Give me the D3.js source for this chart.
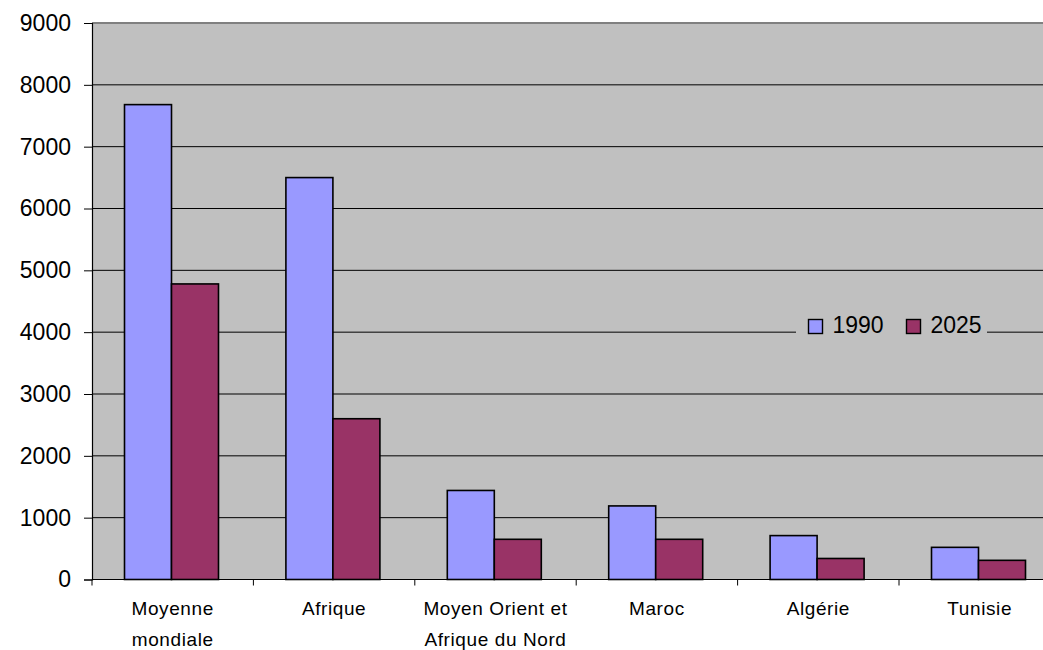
<!DOCTYPE html>
<html>
<head>
<meta charset="utf-8">
<script src="https://cdn.jsdelivr.net/npm/d3@7"></script>
<style>
  html, body { margin: 0; padding: 0; background: #ffffff; }
  svg { display: block; font-family: "Liberation Sans", Arial, sans-serif; }
</style>
</head>
<body>
<svg id="chart" width="1043" height="650"></svg>
<script>
// Categories (label lines) and the two series
const categories = ["Moyenne mondiale", "Afrique", "Moyen Orient et Afrique du Nord", "Maroc", "Algérie", "Tunisie"];
const categoryLines = [["Moyenne", "mondiale"], ["Afrique"], ["Moyen Orient et", "Afrique du Nord"], ["Maroc"], ["Algérie"], ["Tunisie"]];
const seriesNames = ["1990", "2025"];
const values1990 = [7680, 6500, 1440, 1190, 710, 520];
const values2025 = [4780, 2600, 650, 650, 340, 310];
const yTicks = [0, 1000, 2000, 3000, 4000, 5000, 6000, 7000, 8000, 9000];
const seriesColors = ["#9999FF", "#993366"];

const svg = d3.select("#chart");
const plotLeft = 92, plotTop = 23, plotBottom = 579.5, catWidth = 161.4;
const plotRight = plotLeft + catWidth * categories.length;

const x0 = d3.scaleBand().domain(categories).range([plotLeft, plotRight]).padding(0);
const x1 = d3.scaleBand().domain(seriesNames).range([32.5, 126.5]).padding(0);
const y = d3.scaleLinear().domain([0, 9000]).range([plotBottom, plotTop]);

// Plot background
svg.append("rect")
  .attr("x", plotLeft).attr("y", plotTop)
  .attr("width", plotRight - plotLeft).attr("height", plotBottom - plotTop)
  .attr("fill", "#C0C0C0");

// Top border of the plot area
svg.append("line")
  .attr("x1", plotLeft).attr("x2", plotRight)
  .attr("y1", plotTop).attr("y2", plotTop)
  .attr("stroke", "#808080").attr("stroke-width", 2);

// Horizontal gridlines
svg.append("g").selectAll("line")
  .data(yTicks.filter(t => t > 0 && t < 9000))
  .join("line")
  .attr("x1", plotLeft).attr("x2", plotRight)
  .attr("y1", d => y(d)).attr("y2", d => y(d))
  .attr("stroke", "#000").attr("stroke-width", 1);

// Bars
const rows = categories.map((c, i) => ({ cat: c, vals: [values1990[i], values2025[i]] }));
const groups = svg.append("g").selectAll("g")
  .data(rows).join("g")
  .attr("transform", d => `translate(${x0(d.cat)},0)`);
groups.selectAll("rect")
  .data(d => d.vals.map((v, j) => ({ s: seriesNames[j], v, j })))
  .join("rect")
  .attr("x", d => x1(d.s))
  .attr("width", x1.bandwidth())
  .attr("y", d => y(d.v))
  .attr("height", d => y(0) - y(d.v))
  .attr("fill", d => seriesColors[d.j])
  .attr("stroke", "#000").attr("stroke-width", 1.6);

// Y axis
const yAxis = d3.axisLeft(y).tickValues(yTicks).tickSize(8).tickPadding(13).tickFormat(d3.format("d"));
const gy = svg.append("g").attr("transform", `translate(${plotLeft},0)`).call(yAxis);
gy.select(".domain").attr("stroke", "#000").attr("stroke-width", 1.2);
gy.selectAll(".tick line").attr("stroke", "#000");
gy.selectAll(".tick text")
  .attr("font-size", 23).attr("fill", "#000")
  .attr("font-family", "'Liberation Sans', Arial, sans-serif");

// X axis line and tick marks at category boundaries
svg.append("line")
  .attr("x1", plotLeft).attr("x2", plotRight)
  .attr("y1", plotBottom).attr("y2", plotBottom)
  .attr("stroke", "#000").attr("stroke-width", 1);
svg.append("g").selectAll("line")
  .data(categories)
  .join("line")
  .attr("x1", d => x0(d)).attr("x2", d => x0(d))
  .attr("y1", plotBottom).attr("y2", plotBottom + 6)
  .attr("stroke", "#000").attr("stroke-width", 1);

// Category labels
const lbl = svg.append("g").selectAll("text")
  .data(categories.map((c, i) => ({ c, lines: categoryLines[i] })))
  .join("text")
  .attr("text-anchor", "middle")
  .attr("font-size", 19)
  .attr("letter-spacing", 0.6)
  .attr("fill", "#000");
lbl.selectAll("tspan")
  .data(d => d.lines.map(l => ({ l, cx: x0(d.c) + x0.bandwidth() / 2 })))
  .join("tspan")
  .attr("x", d => d.cx)
  .attr("y", (d, i) => 615 + i * 31)
  .text(d => d.l);

// Legend (sits over the 4000 gridline)
const legend = svg.append("g");
legend.append("rect")
  .attr("x", 796).attr("y", 312).attr("width", 191).attr("height", 28)
  .attr("fill", "#C0C0C0");
const legendX = [808.5, 906.5];
seriesNames.forEach((s, i) => {
  legend.append("rect")
    .attr("x", legendX[i]).attr("y", 319.5).attr("width", 14).attr("height", 14)
    .attr("fill", seriesColors[i]).attr("stroke", "#000").attr("stroke-width", 1.4);
  legend.append("text")
    .attr("x", legendX[i] + 24).attr("y", 332.5)
    .attr("font-size", 23).attr("fill", "#000")
    .text(s);
});
</script>
</body>
</html>
